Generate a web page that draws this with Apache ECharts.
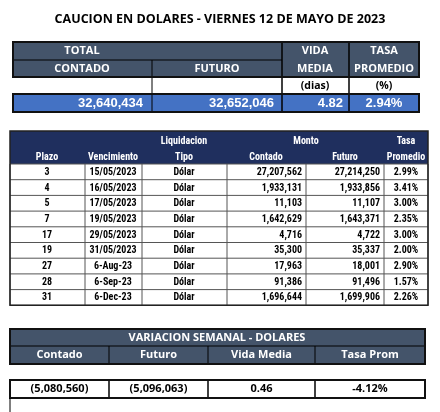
<!DOCTYPE html>
<html><head><meta charset="utf-8">
<script src="https://cdn.jsdelivr.net/npm/echarts@6/dist/echarts.min.js"></script>
<style>html,body{margin:0;padding:0;background:#fff}#c{width:440px;height:412px}</style>
</head><body><div id="c"></div>
<script>
const title = "CAUCION EN DOLARES - VIERNES 12 DE MAYO DE 2023";
const totalHeaders = ["TOTAL","CONTADO","FUTURO","VIDA","MEDIA","TASA","PROMEDIO","(dias)","(%)"];
const totalValues = ["32,640,434","32,652,046","4.82","2.94%"];
const plazo = ["3","4","5","7","17","19","27","28","31"];
const vencimiento = ["15/05/2023","16/05/2023","17/05/2023","19/05/2023","29/05/2023","31/05/2023","6-Aug-23","6-Sep-23","6-Dec-23"];
const tipo = ["Dólar","Dólar","Dólar","Dólar","Dólar","Dólar","Dólar","Dólar","Dólar"];
const contado = ["27,207,562","1,933,131","11,103","1,642,629","4,716","35,300","17,963","91,386","1,696,644"];
const futuro = ["27,214,250","1,933,856","11,107","1,643,371","4,722","35,337","18,001","91,496","1,699,906"];
const tasa = ["2.99%","3.41%","3.00%","2.35%","3.00%","2.00%","2.90%","1.57%","2.26%"];
const varTitle = "VARIACION SEMANAL - DOLARES";
const varHeaders = ["Contado","Futuro","Vida Media","Tasa Prom"];
const varValues = ["(5,080,560)","(5,096,063)","0.46","-4.12%"];

const G = [];
function rect(x,y,w,h,fill,stroke,lw){G.push({type:'rect',shape:{x,y,width:w,height:h},style:{fill:fill||'none',stroke:stroke||null,lineWidth:lw||1},silent:true});}
function line(x1,y1,x2,y2,c,lw){G.push({type:'line',shape:{x1,y1,x2,y2},style:{stroke:c,lineWidth:lw||1},silent:true});}
function text(t,x,y,align,size,color,font,weight){G.push({type:'text',x,y,style:{text:t,fill:color,font:(weight||'bold')+' '+size+'px '+font,textAlign:align||'center',textVerticalAlign:'middle'},silent:true});}
const CAL='"Open Sans", "DejaVu Sans", sans-serif';
const ARI='"Liberation Sans", Arial, sans-serif';

text(title,220,19,'center',12.5,'#000',CAL);

// Top table
const tx=[13,152,282,349,419];
const HD='#44546a';
rect(13,42,406,35,HD);
rect(13,94,406,18,'#4472c4');
line(13,60,282,60,'#000',1);
for(let i=1;i<4;i++){ if(i===1){line(tx[i],60,tx[i],112,'#000',1);} else line(tx[i],42,tx[i],112,'#000',1.5);}
rect(13,42,406,35,null,'#111',2);
rect(13,94,406,18,null,'#111',2);
text(totalHeaders[0],82,51,'center',11,'#fff',CAL);
text(totalHeaders[1],82,69,'center',11,'#fff',CAL);
text(totalHeaders[2],217,69,'center',11,'#fff',CAL);
text(totalHeaders[3],315,51,'center',11,'#fff',CAL);
text(totalHeaders[4],315,69,'center',11,'#fff',CAL);
text(totalHeaders[5],384,51,'center',11,'#fff',CAL);
text(totalHeaders[6],384,69,'center',11,'#fff',CAL);
text(totalHeaders[7],315,86,'center',10.5,'#000',CAL);
text(totalHeaders[8],384,86,'center',10.5,'#000',CAL);
text(totalValues[0],143,103,'right',13,'#fff',ARI);
text(totalValues[1],274,103,'right',13,'#fff',ARI);
text(totalValues[2],343,103,'right',13,'#fff',ARI);
text(totalValues[3],384,103,'center',13,'#fff',ARI);

// Middle table
const mx=[10,85,142,227,306,384,428];
const NAV='#1f2f5e';
const hTop=131,hBot=164,rh=15.7;
rect(10,hTop,418,hBot-hTop,NAV);
const NAR='"Liberation Sans Narrow","Roboto Condensed","Liberation Sans",sans-serif';
const fs=10;
text('Liquidacion',184,141,'center',fs,'#fff',NAR);
text('Monto',306,141,'center',fs,'#fff',NAR);
text('Tasa',406,141,'center',fs,'#fff',NAR);
text('Plazo',47,157,'center',fs,'#fff',NAR);
text('Vencimiento',113,157,'center',fs,'#fff',NAR);
text('Tipo',184,157,'center',fs,'#fff',NAR);
text('Contado',266,157,'center',fs,'#fff',NAR);
text('Futuro',345,157,'center',fs,'#fff',NAR);
text('Promedio',406,157,'center',fs,'#fff',NAR);
const nR=plazo.length;
const tBot=hBot+rh*nR;
for(let r=0;r<=nR;r++) line(10,hBot+r*rh,428,hBot+r*rh,'#555',1);
for(let i=0;i<mx.length;i++) line(mx[i],hBot,mx[i],tBot,'#555',1);
rect(10,hTop,418,tBot-hTop,null,'#222',1.5);
for(let r=0;r<nR;r++){
  const y=hBot+r*rh+rh/2+0.5;
  text(plazo[r],47,y,'center',fs,'#000',NAR);
  text(vencimiento[r],113,y,'center',fs,'#000',NAR);
  text(tipo[r],184,y,'center',fs,'#000',NAR);
  text(contado[r],302,y,'right',fs,'#000',NAR);
  text(futuro[r],380,y,'right',fs,'#000',NAR);
  text(tasa[r],406,y,'center',fs,'#000',NAR);
}

// Bottom table
const bx=[10,109,208,315,425];
rect(10,329,415,35,HD);
line(10,346,425,346,'#000',1);
for(let i=1;i<4;i++){line(bx[i],346,bx[i],364,'#000',1);line(bx[i],380,bx[i],398,'#000',1.5);}
rect(10,329,415,35,null,'#111',2);
rect(10,380,415,18,null,'#111',2);
text(varTitle,217,338,'center',11,'#fff',CAL);
for(let i=0;i<4;i++){
  const cx=(bx[i]+bx[i+1])/2;
  text(varHeaders[i],cx,355,'center',11,'#fff',CAL);
  text(varValues[i],cx,389,'center',11,'#000',CAL);
}
line(10,398,10,412,'#000',1);

const chart=echarts.init(document.getElementById('c'));
chart.setOption({animation:false,graphic:{elements:G}});
</script></body></html>
